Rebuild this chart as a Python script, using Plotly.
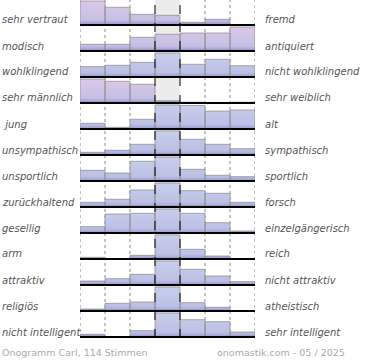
import plotly.graph_objects as go

left_labels = ["sehr vertraut", "modisch", "wohlklingend", "sehr männlich", " jung",
               "unsympathisch", "unsportlich", "zurückhaltend", "gesellig", "arm",
               "attraktiv", "religiös", "nicht intelligent"]
right_labels = ["fremd", "antiquiert", "nicht wohlklingend", "sehr weiblich", "alt",
                "sympathisch", "sportlich", "forsch", "einzelgängerisch", "reich",
                "nicht attraktiv", "atheistisch", "sehr intelligent"]

# relative vote shares per row, 7 scale steps (left pole -> right pole)
votes = [
    [24, 17.7, 10.7, 9.7, 2.7, 5.7, 0],
    [6.7, 6.7, 13.7, 16.7, 18, 18, 24],
    [10.3, 11.7, 14.7, 24, 12.7, 17.7, 11.3],
    [24, 21.7, 18.7, 2.3, 0.8, 0, 0.8],
    [5.7, 1.7, 9.7, 24, 23.5, 18, 19],
    [2.7, 4.7, 10.7, 24, 15.7, 10.7, 6.3],
    [10.7, 8, 19.7, 24, 11.7, 5.7, 4.3],
    [4.7, 7.7, 17, 24, 16.3, 13.7, 4.7],
    [6.3, 19, 19.7, 24, 19.7, 10.3, 2],
    [1.7, 0, 3.7, 24, 9.7, 3, 0],
    [4, 6.3, 10.7, 24, 15.7, 9, 3.3],
    [2, 7.7, 9, 24, 8.3, 3.7, 0],
    [2.7, 0, 6.3, 24, 17.3, 15.3, 5],
]
# rows whose mode lies off the centre are tinted pink
off_centre = [True, True, False, True, False, False, False, False, False, False, False, False, False]

footer_left = "Onogramm Carl, 114 Stimmen"
footer_right = "onomastik.com - 05 / 2025"

ROW_PX = 26.0
MAX_H = 24.0 / ROW_PX
BASE_OFF = 25.0 / ROW_PX
n_rows = len(votes)
n_cols = 7
PLOT_W = 175.0
PLOT_H = ROW_PX * n_rows
L = 80

pink_scale = [[0, "#8e86c2"], [0.1, "#aea8d8"], [0.2, "#c4c0e4"], [0.6, "#d0c4e6"], [1, "#dcc6e8"]]
blue_scale = [[0, "#8e8cc6"], [0.1, "#aeb0dc"], [0.2, "#bcc0e4"], [0.6, "#c2c8e8"], [1, "#c8cfec"]]

fig = go.Figure()
for i, row in enumerate(votes):
    base = -i - BASE_OFF
    m = max(row)
    xs, ys = [], []
    for c, v in enumerate(row):
        if v <= 0:
            continue
        top = base + v / m * MAX_H
        xs += [c, c, c + 1, c + 1, c, None]
        ys += [base, top, top, base, base, None]
    fig.add_trace(go.Scatter(
        x=xs, y=ys, mode="lines", fill="toself",
        line=dict(color="rgba(140,140,140,0.75)", width=1),
        fillgradient=dict(type="vertical",
                          colorscale=pink_scale if off_centre[i] else blue_scale,
                          start=base, stop=base + MAX_H),
        hoverinfo="skip", showlegend=False))

shapes = []
shapes.append(dict(type="rect", xref="x", yref="paper", x0=3, x1=4, y0=0, y1=1,
                   fillcolor="#ececec", line=dict(width=0), layer="below"))
for gx in [0, 1, 2, 5, 6, 7]:
    shapes.append(dict(type="line", xref="x", yref="paper", x0=gx, x1=gx, y0=0, y1=1,
                       line=dict(color="#888888", width=1, dash="dot"), layer="below"))
for gx in [3, 4]:
    shapes.append(dict(type="line", xref="x", yref="paper", x0=gx, x1=gx, y0=0, y1=1,
                       line=dict(color="#000000", width=1, dash="dash"), layer="above"))
for i in range(n_rows):
    b = -i - BASE_OFF
    shapes.append(dict(type="line", xref="x", yref="y", x0=0, x1=n_cols, y0=b, y1=b,
                       line=dict(color="#000000", width=2), layer="above"))

def px_x(px):
    return (px - L) / PLOT_W

def px_y(px):
    return 1 - px / PLOT_H

annotations = []
lab_font = dict(family="DejaVu Sans", size=10, color="#555555")
for i in range(n_rows):
    ypx = ROW_PX * i + 20
    annotations.append(dict(x=px_x(0), y=px_y(ypx), xref="paper", yref="paper",
                            text="<i>" + left_labels[i] + "</i>",
                            showarrow=False, xanchor="left", yanchor="middle", font=lab_font))
    annotations.append(dict(x=px_x(263), y=px_y(ypx), xref="paper", yref="paper",
                            text="<i>" + right_labels[i] + "</i>",
                            showarrow=False, xanchor="left", yanchor="middle", font=lab_font))
foot_font = dict(family="DejaVu Sans", size=9.5, color="#aaaaaa")
annotations.append(dict(x=px_x(0), y=px_y(352), xref="paper", yref="paper", text=footer_left,
                        showarrow=False, xanchor="left", yanchor="middle", font=foot_font))
annotations.append(dict(x=px_x(347), y=px_y(352), xref="paper", yref="paper", text=footer_right,
                        showarrow=False, xanchor="right", yanchor="middle", font=foot_font))

fig.update_layout(
    width=370, height=360,
    margin=dict(l=L, r=370 - L - PLOT_W, t=0, b=360 - PLOT_H),
    paper_bgcolor="white", plot_bgcolor="rgba(0,0,0,0)",
    xaxis=dict(range=[0, n_cols], visible=False, fixedrange=True),
    yaxis=dict(range=[-n_rows, 0], visible=False, fixedrange=True),
    shapes=shapes, annotations=annotations, showlegend=False,
)
fig.write_html("out.html", config=dict(displayModeBar=False),
               post_script="document.body.style.margin='0';")
